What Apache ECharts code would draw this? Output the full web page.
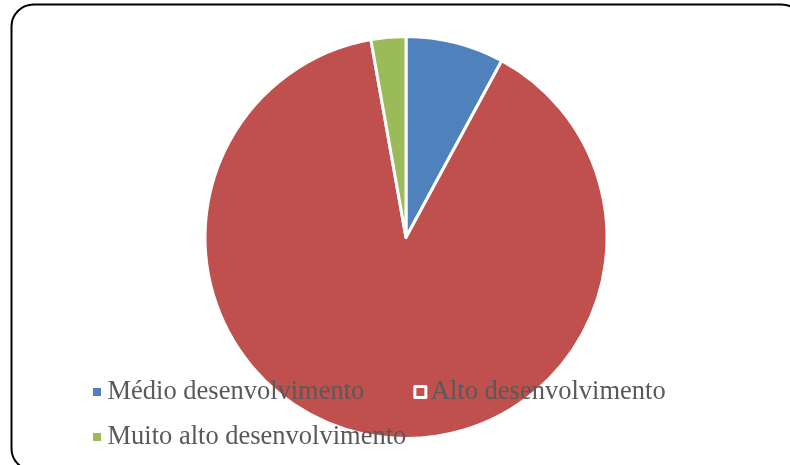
<!DOCTYPE html>
<html>
<head>
<meta charset="utf-8">
<script src="https://cdn.jsdelivr.net/npm/echarts@6/dist/echarts.min.js"></script>
<style>
html,body{margin:0;padding:0;background:#fff;}
#chart{width:790px;height:465px;}
</style>
</head>
<body>
<div id="chart"></div>
<script>
var categories = ['Médio desenvolvimento', 'Alto desenvolvimento', 'Muito alto desenvolvimento'];
var values = [7.9, 89.3, 2.8];
var colors = ['#4F81BD', '#C0504D', '#9BBB59'];

var chart = echarts.init(document.getElementById('chart'), null, {renderer: 'canvas'});
var data = categories.map(function (c, i) {
  return {name: c, value: values[i], itemStyle: {color: colors[i]}};
});
var legendText = {
  fontFamily: '"Liberation Serif", "Times New Roman", serif',
  fontSize: 26.5,
  color: '#595959',
  lineHeight: 30
};
var legendCommon = {
  orient: 'horizontal',
  padding: 0,
  icon: 'rect',
  itemWidth: 11,
  itemHeight: 11,
  itemGap: 49,
  itemStyle: {borderColor: '#fff', borderWidth: 3},
  textStyle: legendText,
  selectedMode: false
};
chart.setOption({
  animation: false,
  backgroundColor: '#fff',
  graphic: [{
    type: 'rect',
    shape: {x: 11.5, y: 4.5, width: 792, height: 466, r: 22},
    style: {fill: 'none', stroke: '#000', lineWidth: 2},
    z: 0
  }],
  legend: [
    Object.assign({}, legendCommon, {left: 90, top: 377, data: [categories[0], categories[1]]}),
    Object.assign({}, legendCommon, {left: 90, top: 422, data: [categories[2]]})
  ],
  series: [{
    type: 'pie',
    center: [406, 237.5],
    radius: 201,
    startAngle: 90,
    clockwise: true,
    label: {show: false},
    labelLine: {show: false},
    emphasis: {disabled: true},
    itemStyle: {borderColor: '#fff', borderWidth: 3},
    data: data,
    z: 1
  }]
});
</script>
</body>
</html>
